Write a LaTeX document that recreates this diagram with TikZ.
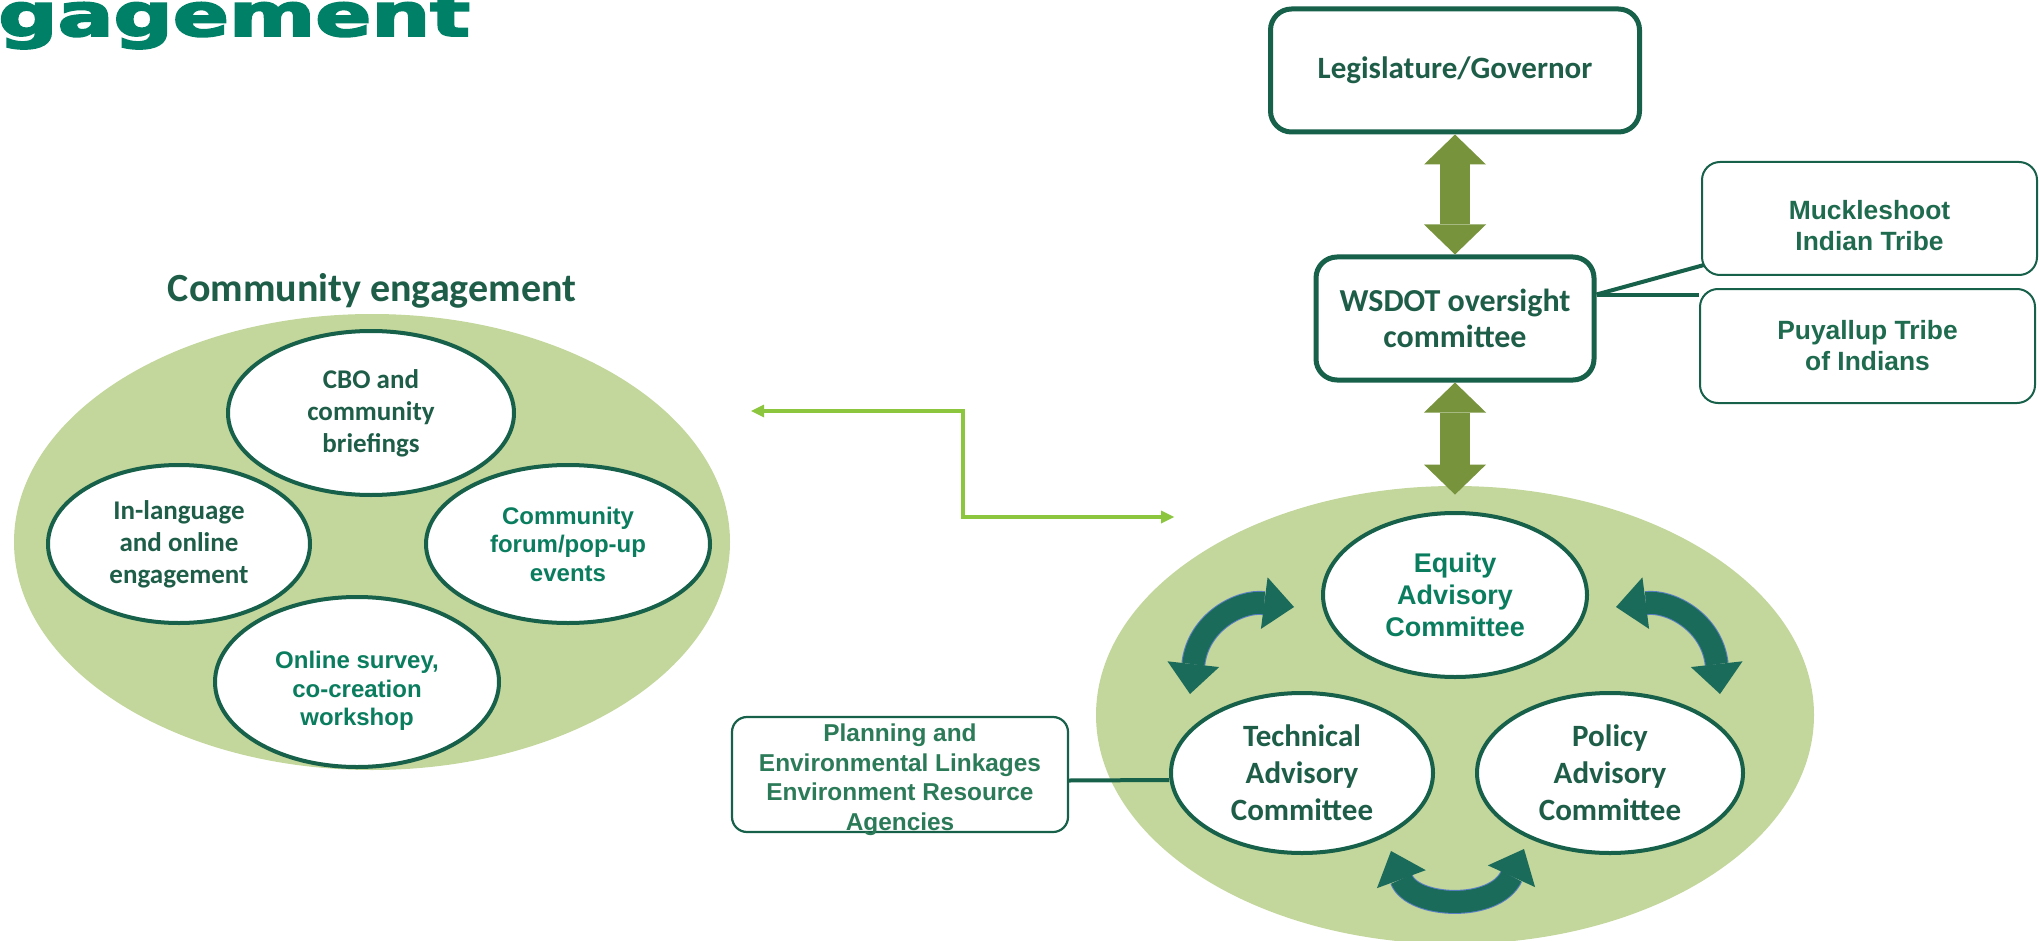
\documentclass[tikz,border=0pt]{standalone}
\usepackage{fontspec}
\usetikzlibrary{shapes.geometric,arrows.meta,calc}
\newfontfamily\calfont{Carlito}
\newfontfamily\arifont{Liberation Sans}
\newfontfamily\heavyfont{DejaVu Sans}[FakeBold=3]
\definecolor{fillg}{HTML}{C3D69B}
\definecolor{edgeg}{HTML}{17604A}
\definecolor{calcol}{HTML}{1E5E48}
\definecolor{tealtxt}{HTML}{0B7D5F}
\definecolor{olivearr}{HTML}{77933C}
\definecolor{lgreen}{HTML}{8CC63F}
\definecolor{curv}{HTML}{1B6B5A}
\definecolor{bluedge}{HTML}{5B7FC7}
\definecolor{ttl}{HTML}{008066}
\definecolor{boxtxt}{HTML}{1F6B4F}
\definecolor{plantxt}{HTML}{2B7A58}
\tikzset{
  bigell/.style={ellipse, fill=fillg, draw=none, inner sep=0pt},
  inell/.style={ellipse, fill=white, draw=edgeg, line width=2pt, inner sep=0pt, align=center},
  calt/.style={font=\calfont\bfseries\fontsize{13.5pt}{16pt}\selectfont, text=calcol},
  arit/.style={font=\arifont\bfseries\fontsize{12pt}{14.25pt}\selectfont, text=tealtxt},
  eqt/.style={font=\arifont\bfseries\fontsize{13.5pt}{16pt}\selectfont, text=tealtxt},
  techt/.style={font=\calfont\bfseries\fontsize{15.5pt}{18.5pt}\selectfont, text=calcol},
  bigbox/.style={draw=edgeg, line width=2.5pt, rounded corners=10.5pt, fill=white, inner sep=0pt, align=center, text=calcol},
  smallbox/.style={draw=edgeg, line width=1pt, rounded corners=9pt, fill=white, inner sep=0pt, align=center, text=boxtxt, font=\arifont\bfseries\fontsize{13.2pt}{15.5pt}\selectfont},
  planbox/.style={draw=edgeg, line width=1.1pt, rounded corners=7.5pt, fill=white, inner sep=0pt, align=center, text=plantxt, font=\arifont\bfseries\fontsize{12.2pt}{14.75pt}\selectfont},
  conn/.style={draw=edgeg, line width=2pt},
  dblarrow/.style={draw=olivearr, line width=15pt, {Triangle[width=31pt,length=15pt,line width=0pt]}-{Triangle[width=31pt,length=15pt,line width=0pt]}},
  curvarrow/.style={draw=curv, line width=11pt, {Triangle[width=26pt,length=15pt,line width=0pt]}-{Triangle[width=26pt,length=15pt,line width=0pt]}},
  curvedge/.style={draw=bluedge, line width=12pt, shorten <=15pt, shorten >=15pt},
  lgarrow/.style={draw=lgreen, line width=2.3pt, {Triangle[width=6.5pt,length=6.5pt,line width=0pt]}-{Triangle[width=6.5pt,length=6.5pt,line width=0pt]}}
}
\begin{document}
\begin{tikzpicture}[x=0.5pt,y=-0.5pt]
\useasboundingbox (0,0) rectangle (2039,941);

% cut-off heading
\node[anchor=base west, inner sep=0pt, text=ttl] (heading) at (-2,36)
  {\scalebox{1.38}[1]{\heavyfont\bfseries\fontsize{30pt}{30pt}\selectfont gagement}};

% big background ellipses
\node[bigell, minimum width=358pt, minimum height=228pt] (bigL) at (372,542) {};
\node[bigell, minimum width=359pt, minimum height=229pt] (bigR) at (1455,715) {};

% community engagement
\node[font=\calfont\bfseries\fontsize{20pt}{24pt}\selectfont, text=calcol, inner sep=0pt] (cetitle) at (372,291) {Community engagement};
\node[inell, calt, minimum width=143pt, minimum height=82pt] (cbo) at (371,413) {CBO and\\community\\briefings};
\node[inell, calt, minimum width=131pt, minimum height=79pt] (inl) at (179,544) {In-language\\and online\\engagement};
\node[inell, arit, minimum width=142pt, minimum height=79pt] (forum) at (568,544) {Community\\forum/pop-up\\events};
\node[inell, arit, minimum width=142pt, minimum height=85pt] (online) at (357,682) {};
\node[arit, align=center, inner sep=0pt] (onlinetxt) at (357,691) {Online survey,\\co-creation\\workshop};

% advisory committees
\node[inell, eqt, minimum width=132pt, minimum height=82pt] (eq) at (1455,595) {Equity\\Advisory\\Committee};
\node[inell, techt, minimum width=131pt, minimum height=80pt] (tech) at (1302,773) {Technical\\Advisory\\Committee};
\node[inell, techt, minimum width=133pt, minimum height=80pt] (pol) at (1610,773) {Policy\\Advisory\\Committee};

% boxes
\node[bigbox, font=\calfont\bfseries\fontsize{15.5pt}{18pt}\selectfont, minimum width=184.5pt, minimum height=61.5pt] (legis) at (1455,70.5) {Legislature/Governor};
\node[bigbox, font=\calfont\bfseries\fontsize{16pt}{18pt}\selectfont, minimum width=139pt, minimum height=61.5pt] (wsdot) at (1455,318.5) {WSDOT oversight\\committee};
\node[smallbox, minimum width=167.5pt, minimum height=56.5pt] (muck) at (1869.5,218.5) {};
\node[smallbox, draw=none, fill=none] (mucktxt) at (1869.5,226) {Muckleshoot\\Indian Tribe};
\node[smallbox, minimum width=167.5pt, minimum height=57pt] (puy) at (1867.5,346) {Puyallup Tribe\\of Indians};
\node[planbox, minimum width=168pt, minimum height=57.5pt] (plan) at (900,774.5) {};
\node[planbox, draw=none, fill=none] (plantext) at (900,779.5) {Planning and\\Environmental Linkages\\Environment Resource\\Agencies};

% connectors
\draw[conn] ($(wsdot.east)+(0,-24)$) -- ($(muck.south west)+(3,-11)$);
\draw[conn] ($(wsdot.east)+(0,-24)$) -- ($(puy.north west)+(0,6.5)$);
\draw[conn] ($(plan.east)+(0,6)$) -- ($(tech.west)+(0,7)$);

\draw[dblarrow] (legis.south) -- (wsdot.north);
\draw[dblarrow] (wsdot.south) -- ($(bigR.north)+(0,9)$);

% elbow arrow between the two groups
\coordinate (ga) at (751,411);
\coordinate (gm) at (963,464);
\coordinate (gb) at (1174,517);
\draw[lgarrow] (ga) -| (gm) |- (gb);

% curved double arrows
\coordinate (la1) at (1190,694);
\coordinate (la2) at (1294,607);
\coordinate (ra1) at (1616,607);
\coordinate (ra2) at (1720,694);
\coordinate (ba1) at (1391,851);
\coordinate (ba2) at (1524,849);
\draw[curvedge] (la1) .. controls (1198,622) and (1240,600) .. (la2);
\draw[curvarrow] (la1) .. controls (1198,622) and (1240,600) .. (la2);
\draw[curvedge] (ra1) .. controls (1670,600) and (1712,622) .. (ra2);
\draw[curvarrow] (ra1) .. controls (1670,600) and (1712,622) .. (ra2);
\draw[curvedge] (ba1) .. controls (1412,908) and (1495,912) .. (ba2);
\draw[curvarrow] (ba1) .. controls (1412,908) and (1495,912) .. (ba2);
\end{tikzpicture}
\end{document}
